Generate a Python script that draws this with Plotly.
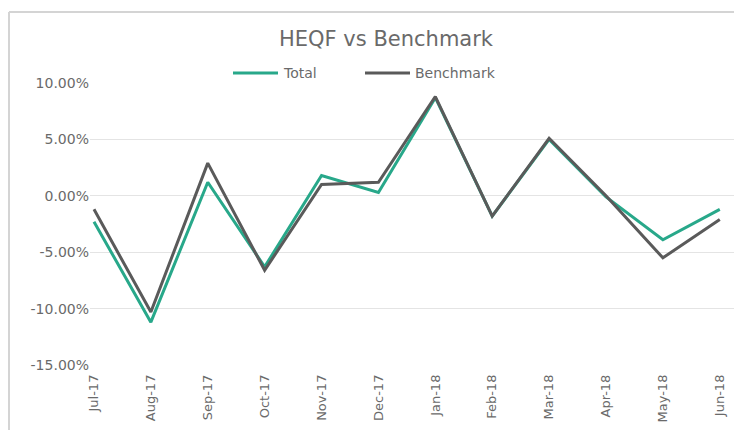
import plotly.graph_objects as go

# Monthly returns, July 2017 - June 2018
months = ["Jul-17", "Aug-17", "Sep-17", "Oct-17", "Nov-17", "Dec-17",
          "Jan-18", "Feb-18", "Mar-18", "Apr-18", "May-18", "Jun-18"]
total = [-0.023, -0.112, 0.012, -0.063, 0.018, 0.003,
         0.087, -0.018, 0.050, -0.001, -0.039, -0.012]
benchmark = [-0.012, -0.103, 0.029, -0.066, 0.010, 0.012,
             0.088, -0.018, 0.051, 0.000, -0.055, -0.021]

y_tick_vals = [-0.15, -0.10, -0.05, 0.0, 0.05, 0.10]
y_tick_labels = ["-15.00%", "-10.00%", "-5.00%", "0.00%", "5.00%", "10.00%"]

series_names = ["Total", "Benchmark"]
series_colors = ["#28a88a", "#5a5a5a"]
TEXT = "#6a6a6a"
FONT = "DejaVu Sans"

W, H = 734, 430
L, R, T, B = 90, 0, 83, 65
PW, PH = W - L - R, H - T - B


def px_x(x):
    """pixel column -> paper x"""
    return (x - L) / PW


def px_y(y):
    """pixel row -> paper y"""
    return (H - B - y) / PH


fig = go.Figure()
for name, vals, col in zip(series_names, [total, benchmark], series_colors):
    fig.add_trace(go.Scatter(x=months, y=vals, name=name, mode="lines",
                             line=dict(color=col, width=3), showlegend=False))

# outer chart frame: top and left edges only (the rest runs off the page)
frame = dict(color="#d4d4d4", width=2)
fig.add_shape(type="line", xref="paper", yref="paper",
              x0=px_x(9), x1=px_x(W + 5), y0=px_y(12), y1=px_y(12),
              line=frame, layer="below")
fig.add_shape(type="line", xref="paper", yref="paper",
              x0=px_x(9), x1=px_x(9), y0=px_y(12), y1=px_y(H + 5),
              line=frame, layer="below")

# legend: line swatch + label for each series
legend_items = [(233, 278, 281), (365, 410, 413)]
for (x0, x1, tx), name, col in zip(legend_items, series_names, series_colors):
    fig.add_shape(type="line", xref="paper", yref="paper",
                  x0=px_x(x0), x1=px_x(x1), y0=px_y(73), y1=px_y(73),
                  line=dict(color=col, width=3))
    fig.add_annotation(xref="paper", yref="paper", x=px_x(tx), y=px_y(73),
                       xanchor="left", yanchor="middle", showarrow=False,
                       text=name, font=dict(family=FONT, size=14, color=TEXT))

fig.update_layout(
    width=W, height=H,
    margin=dict(l=L, r=R, t=T, b=B, autoexpand=False),
    paper_bgcolor="white", plot_bgcolor="white",
    font=dict(family=FONT, color=TEXT, size=13),
    title=dict(text="HEQF vs Benchmark", x=386 / W, xanchor="center",
               y=1 - 39 / H, yanchor="middle",
               font=dict(family=FONT, size=21, color=TEXT)),
    showlegend=False,
    xaxis=dict(type="category", range=[-0.07, 11.25], tickangle=-90,
               showgrid=False, showline=False, automargin=False,
               ticks="", ticklabelstandoff=6,
               tickfont=dict(size=13, color=TEXT), zeroline=False),
    yaxis=dict(range=[-0.15, 0.10], tickvals=y_tick_vals, ticktext=y_tick_labels,
               showgrid=True, gridcolor="#e4e4e4", gridwidth=1, automargin=False,
               zeroline=False, showline=False, ticks="",
               tickfont=dict(size=14, color=TEXT)),
)

fig.write_html("out.html")
